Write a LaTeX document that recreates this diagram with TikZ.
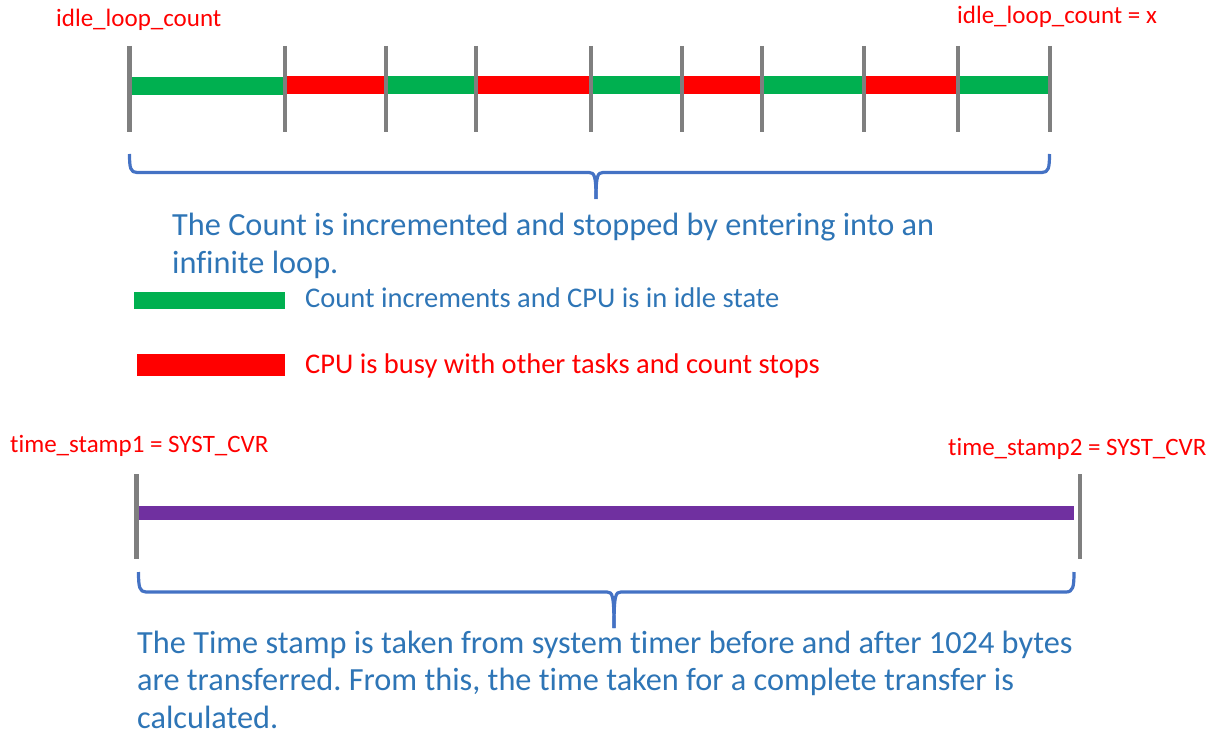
\documentclass[tikz,border=0pt]{standalone}
\usepackage{fontspec}
\setmainfont{Carlito}[Ligatures=NoCommon]
\frenchspacing
\definecolor{tickgray}{HTML}{7F7F7F}
\definecolor{idlegreen}{HTML}{00B050}
\definecolor{busyred}{HTML}{FF0000}
\definecolor{xferpurple}{HTML}{7030A0}
\definecolor{notetext}{HTML}{2E75B6}
\definecolor{bracecol}{HTML}{4472C4}
\tikzset{
  tickmark/.style={draw=tickgray, line width=4.2pt},
  bracepath/.style={draw=bracecol, line width=3.2pt, line join=round},
  varlabel/.style={anchor=base west, inner sep=0pt, text=busyred, font=\fontsize{25}{30}\selectfont},
  legendtext/.style={anchor=base west, inner sep=0pt, font=\fontsize{28.5}{34}\selectfont},
  % multi-line notes: the base anchor sits on the last line
  note/.style={anchor=base west, inner sep=0pt, align=left, text=notetext},
}
\begin{document}
\begin{tikzpicture}[x=1pt, y=-1pt]
\useasboundingbox (0,0) rectangle (1218,735);

% ---------- idle loop counter timeline ----------
\node[varlabel] (startlbl) at (56,27) {idle\_loop\_count};
\node[varlabel] (endlbl) at (957,24) {idle\_loop\_count = x};

% alternating idle / busy segments
\fill[idlegreen] (129,77) rectangle (285,95);
\fill[busyred]   (285,76) rectangle (386,94);
\fill[idlegreen] (386,76) rectangle (476,94);
\fill[busyred]   (476,76) rectangle (591,94);
\fill[idlegreen] (591,76) rectangle (682,94);
\fill[busyred]   (682,76) rectangle (762,94);
\fill[idlegreen] (762,76) rectangle (864,94);
\fill[busyred]   (864,76) rectangle (958,94);
\fill[idlegreen] (958,76) rectangle (1050,94);

% segment boundaries
\foreach \x in {129.5,285,386,476,591,682,762,864,958,1050}
  \draw[tickmark] (\x,46) -- (\x,132);

% brace under the counter timeline
\draw[bracepath] (129.5,154) .. controls (129.5,168) and (130.5,172.5) .. (137,172.5)
  -- (589,172.5) .. controls (594.5,172.5) and (596,176) .. (596,199);
\draw[bracepath] (1049.5,154) .. controls (1049.5,168) and (1048.5,172.5) .. (1042,172.5)
  -- (603,172.5) .. controls (597.5,172.5) and (596,176) .. (596,199);

\node[note, font=\fontsize{32.3}{38}\selectfont] (countnote) at (172,274)
  {The Count is incremented and stopped by entering into an\\infinite loop.};

% ---------- legend ----------
\fill[idlegreen] (134,292) rectangle (285,309);
\node[legendtext, text=notetext] (idlekey) at (305,308) {Count increments and CPU is in idle state};
\fill[busyred] (137,354) rectangle (285,376);
\node[legendtext, text=busyred] (busykey) at (305,373) {CPU is busy with other tasks and count stops};

% ---------- transfer timestamp timeline ----------
\node[varlabel] (ts1) at (10,452) {time\_stamp1 = SYST\_CVR};
\node[varlabel] (ts2) at (948,455) {time\_stamp2 = SYST\_CVR};

\fill[xferpurple] (138,506) rectangle (1074,520);
\draw[tickmark] (136.5,474) -- (136.5,559);
\draw[tickmark] (1080,474) -- (1080,559);

% brace under the transfer timeline
\draw[bracepath] (138.5,572) .. controls (138.5,587) and (139.5,592) .. (146,592)
  -- (607,592) .. controls (612.5,592) and (614,595) .. (614,628);
\draw[bracepath] (1074,572) .. controls (1074,587) and (1073,592) .. (1066,592)
  -- (621,592) .. controls (615.5,592) and (614,595) .. (614,628);

\node[note, font=\fontsize{32.3}{37.5}\selectfont] (timenote) at (137,728)
  {The Time stamp is taken from system timer before and after 1024 bytes\\are transferred. From this, the time taken for a complete transfer is\\calculated.};
\end{tikzpicture}
\end{document}
